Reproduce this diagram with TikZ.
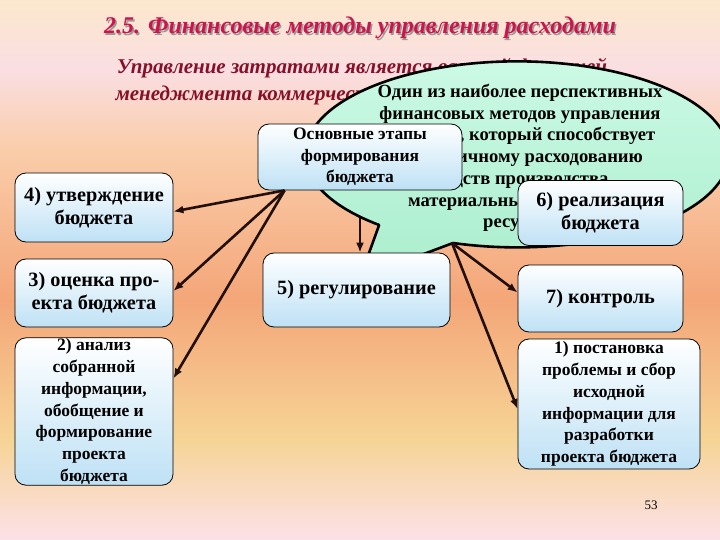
\documentclass[tikz,border=0pt]{standalone}
\usepackage{fontspec}
\setmainfont{Liberation Serif}[BoldFont={Liberation Serif Bold},ItalicFont={Liberation Serif Italic},BoldItalicFont={Liberation Serif Bold Italic}]
\usetikzlibrary{arrows.meta,calc}
\pgfdeclarelayer{back}
\pgfsetlayers{back,main}
\definecolor{arrowc}{RGB}{35,15,10}
\definecolor{boxblue}{RGB}{190,225,245}
\definecolor{minttop}{RGB}{205,250,230}
\definecolor{mintbot}{RGB}{170,238,205}
\definecolor{titlec}{RGB}{205,20,75}
\definecolor{subc}{RGB}{135,15,40}
\definecolor{bgA}{RGB}{252,232,205}
\definecolor{bgB}{RGB}{250,222,226}
\definecolor{bgC}{RGB}{250,205,170}
\definecolor{bgD}{RGB}{244,166,120}
\definecolor{bgE}{RGB}{246,212,150}
\definecolor{bgF}{RGB}{252,225,232}
\begin{document}
\begin{tikzpicture}[x=1pt,y=-1pt,
  stage/.style={draw=black, line width=0.8pt, rounded corners=11pt, top color=white, bottom color=boxblue, align=center, inner sep=1pt, text=black},
  arr/.style={draw=arrowc, line width=2.6pt, -{Latex[length=10pt,width=8pt]}},
  callout/.style={draw=black, line width=2.6pt, top color=minttop, bottom color=mintbot, line join=round},
  titlefont/.style={font=\fontsize{24}{28}\selectfont\bfseries\itshape},
  subfont/.style={font=\fontsize{21}{25}\selectfont\bfseries\itshape, text=subc},
  big/.style={font=\fontsize{20.3}{23}\selectfont\bfseries},
  small/.style={font=\fontsize{17.5}{21.7}\selectfont\bfseries},
  ovaltext/.style={font=\fontsize{18.6}{21.7}\selectfont\bfseries}
]
\useasboundingbox (0,0) rectangle (720,540);
% background
\begin{pgfonlayer}{back}
\shade[top color=bgA, bottom color=bgB] (0,0) rectangle (720,70);
\shade[top color=bgB, bottom color=bgC] (0,69.5) rectangle (720,150);
\shade[top color=bgC, bottom color=bgD] (0,149.5) rectangle (720,300);
\shade[top color=bgD, bottom color=bgE] (0,299.5) rectangle (720,440);
\shade[top color=bgE, bottom color=bgF] (0,439.5) rectangle (720,540);
\end{pgfonlayer}
% title
\node[titlefont, text=black!40] (titleshadow) at (361.5,29.5) {2.5. Финансовые методы управления расходами};
\node[titlefont, text=titlec] (title) at (360,28) {2.5. Финансовые методы управления расходами};
\node[subfont] (sub1) at (362,68) {Управление затратами является важной функцией};
\node[subfont, anchor=west] (sub2) at (112,95) {менеджмента коммерческой организации};
% callout
\draw[callout] (453,243) arc[start angle=107.6, end angle=-229.4, x radius=212, y radius=93] -- (360,278) -- cycle;
\node[ovaltext, align=center] (calltext) at (520,158) {Один из наиболее перспективных\\финансовых методов управления\\– бюджет, который способствует\\экономичному расходованию\\средств производства,\\материальных и трудовых\\ресурсов};
\coordinate (hub) at (452,243);
% boxes
\node[stage, small, minimum width=204, minimum height=66] (main) at (360,157) {Основные этапы\\формирования\\бюджета};
\coordinate (A) at ($(main.south west)+(27,0)$);
\node[stage, big, minimum width=158, minimum height=69] (n4) at (94,207.5) {4) утверждение\\бюджета};
\node[stage, big, minimum width=158, minimum height=68] (n3) at (94,293) {3) оценка про-\\екта бюджета};
\node[stage, small, minimum width=158, minimum height=147] (n2) at (94,411.5) {2) анализ\\собранной\\информации,\\обобщение и\\формирование\\проекта\\бюджета};
\node[stage, big, minimum width=187, minimum height=74] (n5) at (356.5,290) {5) регулирование};
\node[stage, big, minimum width=165, minimum height=65] (n6) at (600.5,213) {6) реализация\\бюджета};
\node[stage, big, minimum width=165, minimum height=67] (n7) at (600.5,298.5) {7) контроль};
\node[stage, small, minimum width=182, minimum height=130] (n1) at (609,404) {1) постановка\\проблемы и сбор\\исходной\\информации для\\разработки\\проекта бюджета};
% arrow beneath callout
\begin{pgfonlayer}{back}
\draw[arr] (main.south) -- (main.south |- n5.north);
\end{pgfonlayer}
% arrows
\draw[arr] (A) -- ($(n4.east)+(0,4)$);
\draw[arr] (A) -- ($(n3.east)+(0,-2)$);
\draw[arr] (A) -- ($(n2.east)+(0,-33)$);
\draw[arr] (hub) -- ($(n7.west)+(0,-6)$);
\draw[arr] (hub) -- ($(n1.west)+(0,5)$);
\node[font=\fontsize{13}{15}\selectfont] (page) at (651,505) {53};
\end{tikzpicture}
\end{document}
